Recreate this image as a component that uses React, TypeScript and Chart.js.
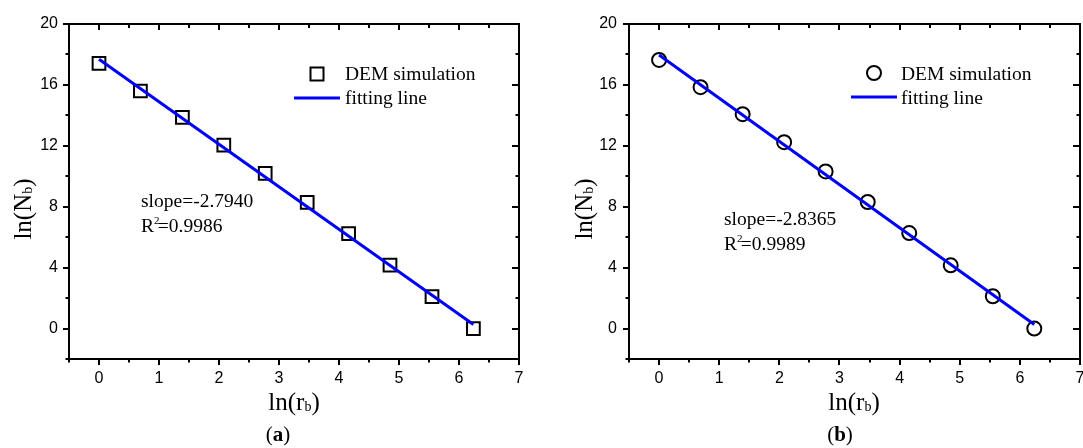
import React, { useEffect, useRef } from 'react';
import { Chart, registerables } from 'chart.js';

Chart.register(...registerables);

// ---- data ----
const lnR = [0, 0.69, 1.39, 2.08, 2.77, 3.47, 4.16, 4.85, 5.55, 6.24];
const demA = [17.42, 15.6, 13.87, 12.05, 10.19, 8.28, 6.24, 4.16, 2.1, 0];
const demB = [17.64, 15.85, 14.08, 12.24, 10.32, 8.31, 6.27, 4.15, 2.12, 0];
const fitX = [0, 6.24];
const fitA = [17.68, 0.26];
const fitB = [17.96, 0.26];
const xTicks = [0, 1, 2, 3, 4, 5, 6, 7];
const yTicks = [0, 4, 8, 12, 16, 20];
const xMinor = [-0.5, 0.5, 1.5, 2.5, 3.5, 4.5, 5.5, 6.5];
const yMinor = [-2, 2, 6, 10, 14, 18];
const legendLabels = ['DEM simulation', 'fitting line'];
const slopeTexts = ['slope=-2.7940', 'slope=-2.8365'];
const r2Texts = ['=0.9986', '=0.9989'];
const captions = ['a', 'b'];

const SERIF = '"Liberation Serif", "Times New Roman", serif';
const SANS = '"Liberation Sans", Arial, sans-serif';

type Panel = {
  left: number;
  width: number;
  yAxisWidth: number;
  padRight: number;
  yPad: number;
  pointStyle: string;
  radius: number;
  dem: number[];
  fit: number[];
  slope: string;
  r2: string;
  caption: string;
  annX: number;
  annY1: number;
  annY2: number;
  legMarkX: number;
  legMarkY: number;
  legLineX1: number;
  legLineX2: number;
  legLineY: number;
  legTextX: number;
  yTitleX: number;
  xTitleX: number;
  captionX: number;
};

const panels: Panel[] = [
  {
    left: 0, width: 540, yAxisWidth: 69, padRight: 21, yPad: 11,
    pointStyle: 'rect', radius: 9, dem: demA, fit: fitA,
    slope: slopeTexts[0], r2: r2Texts[0], caption: captions[0],
    annX: 0.7, annY1: 8.0, annY2: 6.35,
    legMarkX: 317, legMarkY: 74, legLineX1: 294, legLineX2: 340, legLineY: 98, legTextX: 345,
    yTitleX: 31, xTitleX: 294, captionX: 278,
  },
  {
    left: 540, width: 563, yAxisWidth: 89, padRight: 23, yPad: 12,
    pointStyle: 'circle', radius: 7, dem: demB, fit: fitB,
    slope: slopeTexts[1], r2: r2Texts[1], caption: captions[1],
    annX: 1.08, annY1: 6.8, annY2: 5.16,
    legMarkX: 334, legMarkY: 73, legLineX1: 311, legLineX2: 357, legLineY: 97, legTextX: 361,
    yTitleX: 52, xTitleX: 314, captionX: 300,
  },
];

function makeDecor(p: Panel) {
  return {
    id: 'decor' + p.caption,
    afterDraw(chart: any) {
      const ctx: CanvasRenderingContext2D = chart.ctx;
      const ca = chart.chartArea;
      const xs = chart.scales.x;
      const ys = chart.scales.y;
      ctx.save();
      ctx.strokeStyle = '#000';
      ctx.fillStyle = '#000';
      ctx.lineWidth = 2;
      // frame
      ctx.strokeRect(ca.left, ca.top, ca.right - ca.left, ca.bottom - ca.top);
      ctx.beginPath();
      xTicks.forEach((v) => {
        const px = Math.round(xs.getPixelForValue(v));
        ctx.moveTo(px, ca.bottom); ctx.lineTo(px, ca.bottom + 6);
        ctx.moveTo(px, ca.top); ctx.lineTo(px, ca.top + 6);
      });
      xMinor.forEach((v) => {
        const px = Math.round(xs.getPixelForValue(v));
        ctx.moveTo(px, ca.bottom); ctx.lineTo(px, ca.bottom + 3.5);
        ctx.moveTo(px, ca.top); ctx.lineTo(px, ca.top + 4);
      });
      yTicks.forEach((v) => {
        const py = Math.round(ys.getPixelForValue(v));
        ctx.moveTo(ca.left - 6, py); ctx.lineTo(ca.left, py);
        ctx.moveTo(ca.right - 7, py); ctx.lineTo(ca.right, py);
      });
      yMinor.forEach((v) => {
        const py = Math.round(ys.getPixelForValue(v));
        ctx.moveTo(ca.left - 3.5, py); ctx.lineTo(ca.left, py);
        ctx.moveTo(ca.right - 3.5, py); ctx.lineTo(ca.right, py);
      });
      ctx.stroke();

      // annotation
      ctx.textBaseline = 'alphabetic';
      ctx.textAlign = 'left';
      ctx.font = '19.5px ' + SERIF;
      const ax = xs.getPixelForValue(p.annX);
      ctx.fillText(p.slope, ax, ys.getPixelForValue(p.annY1));
      const ry = ys.getPixelForValue(p.annY2);
      ctx.fillText('R', ax, ry);
      const rw = ctx.measureText('R').width;
      ctx.font = '11px ' + SERIF;
      ctx.fillText('2', ax + rw, ry - 8);
      const sw = ctx.measureText('2').width;
      ctx.font = '19.5px ' + SERIF;
      ctx.fillText(p.r2, ax + rw + sw * 0.7, ry);

      // legend
      ctx.lineWidth = 2;
      if (p.pointStyle === 'rect') {
        ctx.strokeRect(p.legMarkX - 6.5, p.legMarkY - 6.5, 13, 13);
      } else {
        ctx.beginPath();
        ctx.arc(p.legMarkX, p.legMarkY, 7, 0, Math.PI * 2);
        ctx.stroke();
      }
      ctx.strokeStyle = '#0000ff';
      ctx.lineWidth = 3;
      ctx.beginPath();
      ctx.moveTo(p.legLineX1, p.legLineY);
      ctx.lineTo(p.legLineX2, p.legLineY);
      ctx.stroke();
      ctx.font = '19.5px ' + SERIF;
      ctx.fillText(legendLabels[0], p.legTextX, 80);
      ctx.fillText(legendLabels[1], p.legTextX, 104);

      const measure = (main: string, sub: string, close: string) => {
        ctx.font = '25px ' + SERIF;
        const w1 = ctx.measureText(main).width;
        const w3 = ctx.measureText(close).width;
        ctx.font = '14px ' + SERIF;
        const w2 = ctx.measureText(sub).width;
        return { w1, w2, w3, total: w1 + w2 + w3 };
      };
      // x title: ln(r_b)
      {
        const m = measure('ln(r', 'b', ')');
        const x0 = p.xTitleX - m.total / 2;
        const by = 410;
        ctx.font = '25px ' + SERIF;
        ctx.fillText('ln(r', x0, by);
        ctx.font = '14px ' + SERIF;
        ctx.fillText('b', x0 + m.w1, by + 1);
        ctx.font = '25px ' + SERIF;
        ctx.fillText(')', x0 + m.w1 + m.w2, by);
      }
      // y title: ln(N_b)
      {
        const m = measure('ln(N', 'b', ')');
        ctx.save();
        ctx.translate(p.yTitleX, 209);
        ctx.rotate(-Math.PI / 2);
        const x0 = -m.total / 2;
        ctx.font = '25px ' + SERIF;
        ctx.fillText('ln(N', x0, 0);
        ctx.font = '14px ' + SERIF;
        ctx.fillText('b', x0 + m.w1, 1);
        ctx.font = '25px ' + SERIF;
        ctx.fillText(')', x0 + m.w1 + m.w2, 0);
        ctx.restore();
      }
      // caption (a)/(b)
      {
        ctx.font = '21px ' + SERIF;
        const wp = ctx.measureText('(').width;
        const wc = ctx.measureText(')').width;
        ctx.font = 'bold 21px ' + SERIF;
        const wl = ctx.measureText(p.caption).width;
        const x0 = p.captionX - (wp + wl + wc) / 2;
        ctx.font = '21px ' + SERIF;
        ctx.fillText('(', x0, 441);
        ctx.font = 'bold 21px ' + SERIF;
        ctx.fillText(p.caption, x0 + wp, 441);
        ctx.font = '21px ' + SERIF;
        ctx.fillText(')', x0 + wp + wl, 441);
      }
      ctx.restore();
    },
  };
}

function PanelChart({ p }: { p: Panel }) {
  const ref = useRef<HTMLCanvasElement>(null);
  useEffect(() => {
    const canvas = ref.current!;
    const chart = new Chart(canvas, {
      type: 'scatter',
      data: {
        datasets: [
          {
            label: legendLabels[1],
            data: fitX.map((x, i) => ({ x, y: p.fit[i] })),
            showLine: true,
            borderColor: '#0000ff',
            borderWidth: 3,
            pointRadius: 0,
            order: 0,
          } as any,
          {
            label: legendLabels[0],
            data: lnR.map((x, i) => ({ x, y: p.dem[i] })),
            showLine: false,
            pointStyle: p.pointStyle,
            pointRadius: p.radius,
            borderColor: '#000',
            backgroundColor: 'rgba(0,0,0,0)',
            borderWidth: 2,
            order: 1,
          } as any,
        ],
      },
      options: {
        animation: false,
        responsive: false,
        events: [],
        layout: { padding: { top: 24, right: p.padRight, left: 0, bottom: 0 } },
        plugins: { legend: { display: false }, tooltip: { enabled: false } },
        scales: {
          x: {
            type: 'linear',
            min: -0.5,
            max: 7,
            grid: { display: false, drawTicks: false },
            border: { display: false },
            ticks: { color: '#000', font: { family: SANS, size: 16 }, padding: 10, maxRotation: 0, autoSkip: false },
            afterBuildTicks: (s: any) => { s.ticks = xTicks.map((v) => ({ value: v })); },
            afterFit: (s: any) => { s.height = 89; s.paddingLeft = 0; s.paddingRight = 0; },
          },
          y: {
            type: 'linear',
            min: -2,
            max: 20,
            grid: { display: false, drawTicks: false },
            border: { display: false },
            ticks: { color: '#000', font: { family: SANS, size: 16 }, padding: p.yPad, autoSkip: false },
            afterBuildTicks: (s: any) => { s.ticks = yTicks.map((v) => ({ value: v })); },
            afterFit: (s: any) => { s.width = p.yAxisWidth; s.paddingTop = 0; s.paddingBottom = 0; },
          },
        } as any,
      },
      plugins: [makeDecor(p)],
    });
    return () => chart.destroy();
  }, [p]);
  return (
    <canvas
      ref={ref}
      width={p.width}
      height={448}
      style={{ position: 'absolute', left: p.left, top: 0, width: p.width, height: 448 }}
    />
  );
}

export default function App() {
  return (
    <div style={{ position: 'absolute', left: 0, top: 0, width: 1083, height: 448, background: '#fff', overflow: 'hidden' }}>
      {panels.map((p) => (
        <PanelChart key={p.caption} p={p} />
      ))}
    </div>
  );
}
